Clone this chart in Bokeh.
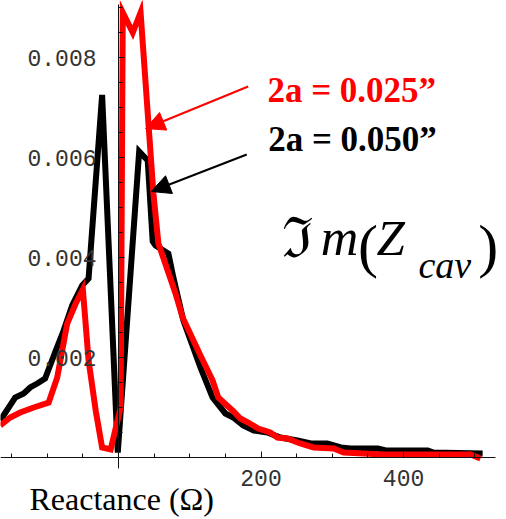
from bokeh.plotting import figure
from bokeh.models import Range1d, FixedTicker, PrintfTickFormatter, Label, Arrow, NormalHead
from bokeh.embed import file_html
from bokeh.resources import INLINE

# ---- data ----
black_x = [-166, -145, -133, -124, -114, -103, -88, -77, -65, -51, -42, -23, -1, 29, 41, 48, 52, 70, 77, 91,
           115, 132, 150, 161, 175, 190, 209, 227, 251, 270, 293, 312, 326, 364, 375, 434, 442, 511]
black_y = [0.00074, 0.00120, 0.00128, 0.00140, 0.00148, 0.00158, 0.00214, 0.00254, 0.00304, 0.00344,
           0.00358, 0.00725, 0.00010, 0.00612, 0.00594, 0.00432, 0.00424, 0.00408, 0.00360, 0.00274,
           0.00180, 0.00120, 0.00088, 0.00080, 0.00064, 0.00054, 0.00050, 0.00040, 0.00034, 0.00028,
           0.00028, 0.00020, 0.00018, 0.00018, 0.00014, 0.00014, 0.00010, 0.00008]

red_x = [-166, -152, -138, -119, -98, -86, -72, -60, -50, -42, -32, -23, -11, 3, 6, 20, 31, 49, 56, 69, 80, 90,
         115, 132, 140, 160, 171, 182, 196, 213, 223, 237, 255, 274, 302, 316, 372, 494, 508]
red_y = [0.00064, 0.00080, 0.00090, 0.00100, 0.00110, 0.00160, 0.00268, 0.00308, 0.00336, 0.00194,
         0.00094, 0.00020, 0.00016, 0.00100, 0.00890, 0.00850, 0.00890, 0.00528, 0.00428, 0.00374,
         0.00328, 0.00280, 0.00204, 0.00154, 0.00120, 0.00094, 0.00078, 0.00070, 0.00058, 0.00050,
         0.00040, 0.00038, 0.00028, 0.00020, 0.00018, 0.00010, 0.00006, 0.00006, -0.00002]

x_major = [200, 400]
x_minor = [-150, -100, -50, 0, 50, 100, 150, 250, 300, 350, 450, 500]
y_major = [0.002, 0.004, 0.006, 0.008]
y_minor = [0.0005 * k for k in range(1, 19) if k % 4 != 0]

p = figure(width=506, height=519, title=None, toolbar_location=None, output_backend="svg",
           x_range=Range1d(-165.6, 544.5), y_range=Range1d(-0.00124, 0.00914),
           min_border_left=0, min_border_right=0, min_border_top=0, min_border_bottom=0)
p.outline_line_color = None
p.xgrid.visible = False
p.ygrid.visible = False
p.background_fill_color = "white"
p.border_fill_color = "white"

for ax in (p.xaxis[0], p.yaxis[0]):
    ax.fixed_location = 0
    ax.axis_line_color = "#111111"
    ax.axis_line_width = 1
    ax.major_tick_in = 6
    ax.major_tick_out = 0
    ax.minor_tick_in = 4
    ax.minor_tick_out = 0
    ax.major_tick_line_color = "#111111"
    ax.minor_tick_line_color = "#111111"
    ax.major_label_text_font = "Liberation Mono"
    ax.major_label_text_font_size = "23px"
    ax.major_label_text_color = "#333333"

p.xaxis[0].bounds = (-165.6, 529)
p.yaxis[0].bounds = (-0.00022, 0.00906)
p.xaxis[0].ticker = FixedTicker(ticks=x_major, minor_ticks=x_minor)
p.xaxis[0].formatter = PrintfTickFormatter(format="%d")
p.xaxis[0].major_label_standoff = 12
p.yaxis[0].ticker = FixedTicker(ticks=y_major, minor_ticks=y_minor)
p.yaxis[0].formatter = PrintfTickFormatter(format="%.3f")
p.yaxis[0].major_label_standoff = 22

p.line(black_x, black_y, line_color="black", line_width=6, line_join="miter")
p.line(red_x, red_y, line_color="#ff0000", line_width=6, line_join="miter")

p.add_layout(Arrow(end=NormalHead(size=19, fill_color="#ff0000", line_color="#ff0000"),
                   x_start=182, y_start=0.00742, x_end=38, y_end=0.00658,
                   line_color="#ff0000", line_width=2))
p.add_layout(Arrow(end=NormalHead(size=19, fill_color="black", line_color="black"),
                   x_start=180, y_start=0.00606, x_end=46, y_end=0.00532,
                   line_color="black", line_width=2))

p.add_layout(Label(x=209, y=0.00734, text="2a = 0.025\u201d", text_font="Liberation Serif",
                   text_font_style="bold", text_font_size="35px", text_color="#ff0000",
                   text_baseline="middle"))
p.add_layout(Label(x=210, y=0.00636, text="2a = 0.050\u201d", text_font="Liberation Serif",
                   text_font_style="bold", text_font_size="35px", text_color="black",
                   text_baseline="middle"))

# Im(Z_cav)
p.add_layout(Label(x=230, y=0.00440, text="\u2111", text_font="DejaVu Serif",
                   text_font_size="56px", text_color="black", text_baseline="middle"))
p.add_layout(Label(x=284, y=0.00440, text="m", text_font="Liberation Serif", text_font_style="italic",
                   text_font_size="52px", text_color="black", text_baseline="middle"))
p.add_layout(Label(x=336, y=0.00424, text="(", text_font="Liberation Serif",
                   text_font_size="60px", text_color="black", text_baseline="middle"))
p.add_layout(Label(x=362, y=0.00439, text="Z", text_font="Liberation Serif", text_font_style="italic",
                   text_font_size="51px", text_color="black", text_baseline="middle"))
p.add_layout(Label(x=421, y=0.00385, text="cav", text_font="Liberation Serif", text_font_style="italic",
                   text_font_size="38px", text_color="black", text_baseline="middle"))
p.add_layout(Label(x=505, y=0.00424, text=")", text_font="Liberation Serif",
                   text_font_size="60px", text_color="black", text_baseline="middle"))

p.add_layout(Label(x=-125, y=-0.00082, text="Reactance (\u03a9)", text_font="Liberation Serif",
                   text_font_size="32px", text_color="black", text_baseline="middle"))

open("out.html", "w").write(file_html(p, INLINE))
